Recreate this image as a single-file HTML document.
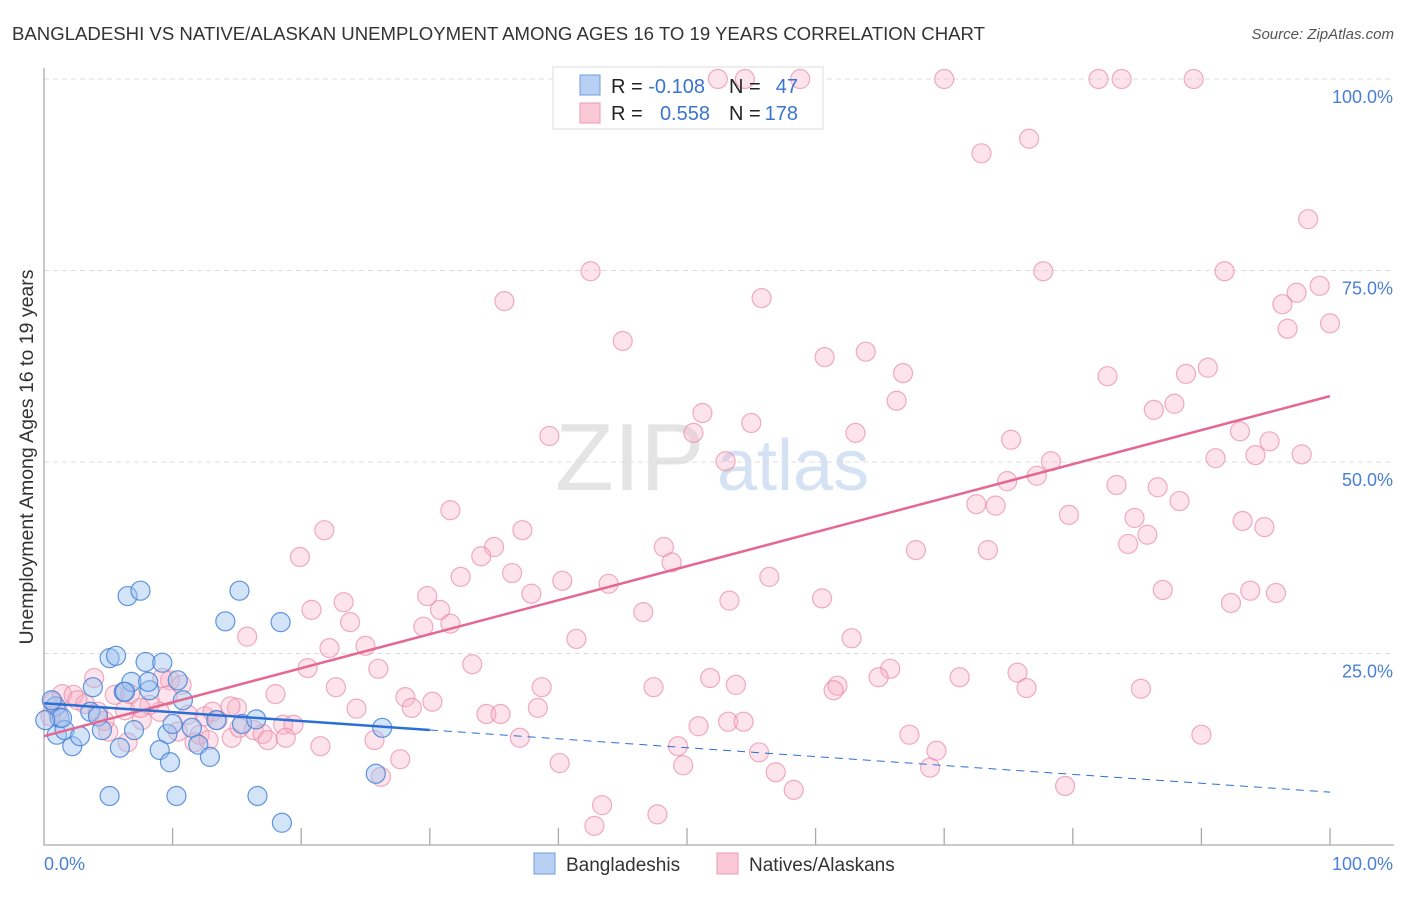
<!DOCTYPE html>
<html><head><meta charset="utf-8"><style>
body{margin:0;background:#fff;font-family:"Liberation Sans",sans-serif;}
svg text{font-family:"Liberation Sans",sans-serif;}
</style></head><body>
<svg id="chart" width="1406" height="892" viewBox="0 0 1406 892">
<text x="12" y="40" font-size="18.6" fill="#333">BANGLADESHI VS NATIVE/ALASKAN UNEMPLOYMENT AMONG AGES 16 TO 19 YEARS CORRELATION CHART</text>
<text x="1394" y="39" font-size="15" fill="#555" font-style="italic" text-anchor="end">Source: ZipAtlas.com</text>
<text x="555" y="490" font-size="96" fill="#e4e4e4" font-family="Liberation Serif,serif">ZIP</text>
<text x="717" y="490" font-size="72" fill="#d4e2f4">atlas</text>
<g id="grid"></g>
<g id="axes"></g>
<rect x="553" y="67" width="270" height="62" fill="#fff" stroke="#ddd"/>
<g id="marks"></g>
<text transform="translate(33,457) rotate(-90)" font-size="19.5" fill="#333" text-anchor="middle">Unemployment Among Ages 16 to 19 years</text>
<g>
<rect x="580" y="75" width="20" height="20" fill="#b8d0f4" stroke="#6e9ee0"/>
<rect x="580" y="103" width="20" height="20" fill="#fbc8d6" stroke="#ee9ab2"/>
<text x="611" y="93" font-size="20" fill="#222">R = <tspan fill="#3a74d0">-0.108</tspan></text>
<text x="729" y="93" font-size="20" fill="#222">N = </text><text x="798" y="93" font-size="20" fill="#3a74d0" text-anchor="end">47</text>
<text x="611" y="120" font-size="20" fill="#222">R = </text><text x="710" y="120" font-size="20" fill="#3a74d0" text-anchor="end">0.558</text>
<text x="729" y="120" font-size="20" fill="#222">N = </text><text x="798" y="120" font-size="20" fill="#3a74d0" text-anchor="end">178</text>
</g>
<g>
<rect x="534" y="853" width="21" height="21" fill="#b8d0f4" stroke="#6e9ee0"/>
<text x="566" y="871" font-size="19" fill="#333">Bangladeshis</text>
<rect x="717" y="853" width="21" height="21" fill="#fbc8d6" stroke="#ee9ab2"/>
<text x="749" y="871" font-size="19" fill="#333">Natives/Alaskans</text>
</g>
</svg>
<script>
const yTicks=[25,50,75,100];
const yTickLabels=["25.0%","50.0%","75.0%","100.0%"];
const xTickVals=[0,10,20,30,40,50,60,70,80,90,100];
const blueX=[1.0,0.9,1.2,2.2,1.6,3.8,3.6,4.2,5.1,5.6,6.2,6.5,7.5,6.8,7.0,7.9,8.2,9.2,10.4,9.6,10.8,10.3,11.5,12.0,12.9,13.4,14.1,15.2,15.4,16.5,16.6,18.4,18.5,25.8,26.3,5.1,2.8,0.6,9.0,8.1,9.8,10.0,6.3,1.4,0.1,4.5,5.9];
const blueY=[14.4,18.1,16.6,12.9,15.0,20.6,17.4,16.8,24.4,24.7,20.0,32.5,33.2,21.3,15.0,23.9,20.2,23.8,21.5,14.5,18.9,6.4,15.3,13.1,11.5,16.3,29.2,33.2,15.8,16.4,6.4,29.1,2.9,9.3,15.3,6.4,14.2,18.9,12.4,21.3,10.8,15.8,20.0,16.6,16.3,15.0,12.7];
const pinkX=[52.4,54.5,58.8,70.0,82.0,83.8,89.4,72.9,76.6,98.3,42.5,77.7,91.8,35.8,55.8,96.3,97.4,99.2,100,96.7,45.0,60.7,63.9,66.8,82.7,88.8,90.5,66.3,87.9,86.3,51.2,55.0,50.5,39.3,63.1,75.2,93.0,95.3,53.0,78.3,91.1,94.2,97.8,74.9,77.2,83.4,86.6,72.5,74.0,31.6,88.3,79.7,84.8,21.8,37.2,93.2,94.9,85.8,84.3,73.4,67.8,35.0,48.2,34.0,19.9,48.8,32.4,36.4,40.3,56.4,43.9,87.0,93.8,95.8,29.8,37.9,23.3,60.5,53.3,92.3,20.8,30.8,46.6,31.6,23.8,29.5,41.4,62.8,15.8,25.0,22.2,33.3,20.5,26.0,65.8,75.7,64.9,61.7,71.2,85.3,51.8,53.8,47.4,38.7,61.4,76.4,22.7,18.0,28.1,30.2,28.6,24.3,38.4,34.4,35.5,53.2,50.9,54.4,49.3,55.6,67.3,69.4,90.0,25.7,37.0,21.5,49.7,56.9,40.1,27.7,68.9,58.3,79.4,26.2,43.4,42.8,47.7,0.7,1.4,2.3,3.2,3.9,5.5,6.3,6.7,7.6,9.0,9.8,9.6,10.7,11.2,11.7,12.1,12.5,13.1,13.5,14.6,15.0,15.2,16.3,17.0,17.4,18.6,19.4,18.8,8.2,6.5,5.0,4.7,4.2,2.6,1.1,0.5,7.5,9.2,10.4,12.8,14.5];
const pinkY=[100,100,100,100,100,100,100,90.3,92.2,81.7,74.9,74.9,74.9,71.0,71.4,70.6,72.1,73.0,68.1,67.4,65.8,63.7,64.4,61.6,61.2,61.5,62.3,58.0,57.6,56.8,56.4,55.1,53.8,53.4,53.8,52.9,54.0,52.7,50.1,50.1,50.5,50.9,51.0,47.5,48.2,47.0,46.7,44.5,44.3,43.7,44.9,43.1,42.7,41.1,41.1,42.3,41.5,40.5,39.3,38.5,38.5,38.9,38.9,37.7,37.6,36.9,35.0,35.5,34.5,35.0,34.1,33.3,33.2,32.9,32.5,32.8,31.7,32.2,31.9,31.6,30.7,30.7,30.4,28.9,29.1,28.5,26.9,27.0,27.2,26.0,25.7,23.6,23.1,23.0,23.0,22.5,21.9,20.8,21.9,20.4,21.8,20.9,20.6,20.6,20.2,20.5,20.6,19.7,19.3,18.7,17.9,17.8,17.9,17.1,17.1,16.1,15.5,16.1,12.9,12.1,14.4,12.3,14.4,13.7,14.0,12.9,10.4,9.5,10.7,11.2,10.1,7.2,7.7,8.9,5.2,2.5,4.0,18.7,19.7,19.6,18.4,21.8,19.6,17.6,19.7,16.3,17.4,21.5,19.5,20.9,17.0,13.4,14.4,16.8,17.4,16.3,14.0,17.9,15.3,15.0,14.5,13.7,15.7,15.7,14.0,18.3,13.4,14.8,16.2,17.4,18.9,17.4,16.8,17.9,21.8,14.8,13.7,18.1];
const pinkTrend=[14.2,58.6];
const blueTrend=[18.5,6.9];
const blueSolidEnd=30;

const NS="http://www.w3.org/2000/svg";
const X0=44,X1=1330,Y0=845,Y1=79;
const sx=v=>X0+(X1-X0)*v/100;
const sy=v=>Y0-(Y0-Y1)*v/100;
function mk(tag,attrs,parent){const e=document.createElementNS(NS,tag);for(const k in attrs)e.setAttribute(k,attrs[k]);parent.appendChild(e);return e;}
const grid=document.getElementById('grid'),axes=document.getElementById('axes'),marks=document.getElementById('marks');
yTicks.forEach((t,i)=>{
 const l=mk('line',{x1:X0,x2:1394,y1:sy(t),y2:sy(t),stroke:'#ddd','stroke-dasharray':'5,4'},grid);
 
 
 const tx=mk('text',{x:1393,y:sy(t)+24,'font-size':18,fill:'#4a7fd6','text-anchor':'end'},axes);
 tx.textContent=yTickLabels[i];
 
 
});
const ax=mk('path',{d:`M${X0},68V${Y0}H1394`,stroke:'#aaa',fill:'none','stroke-width':1.3},axes);


xTickVals.forEach(v=>{if(v===0)return;
 const t=mk('line',{x1:sx(v),x2:sx(v),y1:Y0-17,y2:Y0,stroke:'#aaa','stroke-width':1.3},axes);
 
 
});
const xl0=mk('text',{x:44,y:870,'font-size':18,fill:'#4a7fd6'},axes);xl0.textContent='0.0%';


const xl1=mk('text',{x:1393,y:870,'font-size':18,fill:'#4a7fd6','text-anchor':'end'},axes);xl1.textContent='100.0%';


pinkX.forEach((x,i)=>{
 const c=mk('circle',{cx:sx(x),cy:sy(pinkY[i]),r:9.5,fill:'rgba(248,176,198,0.35)',stroke:'rgba(232,130,160,0.65)','stroke-width':1.2},marks);
 
 
});
blueX.forEach((x,i)=>{
 const c=mk('circle',{cx:sx(x),cy:sy(blueY[i]),r:9.5,fill:'rgba(160,196,240,0.45)',stroke:'rgba(70,130,215,0.85)','stroke-width':1.2},marks);
 
 
});
const pl=mk('line',{x1:sx(0),y1:sy(pinkTrend[0]),x2:sx(100),y2:sy(pinkTrend[1]),stroke:'#e46890','stroke-width':2.5},marks);


const bAt=v=>blueTrend[0]+(blueTrend[1]-blueTrend[0])*v/100;
const bl=mk('line',{x1:sx(0),y1:sy(bAt(0)),x2:sx(blueSolidEnd),y2:sy(bAt(blueSolidEnd)),stroke:'#2b6fd6','stroke-width':2.5},marks);


const bd=mk('line',{x1:sx(blueSolidEnd),y1:sy(bAt(blueSolidEnd)),x2:sx(100),y2:sy(bAt(100)),stroke:'#2b6fd6','stroke-width':1,'stroke-dasharray':'8,6'},marks);


</script>
</body></html>
